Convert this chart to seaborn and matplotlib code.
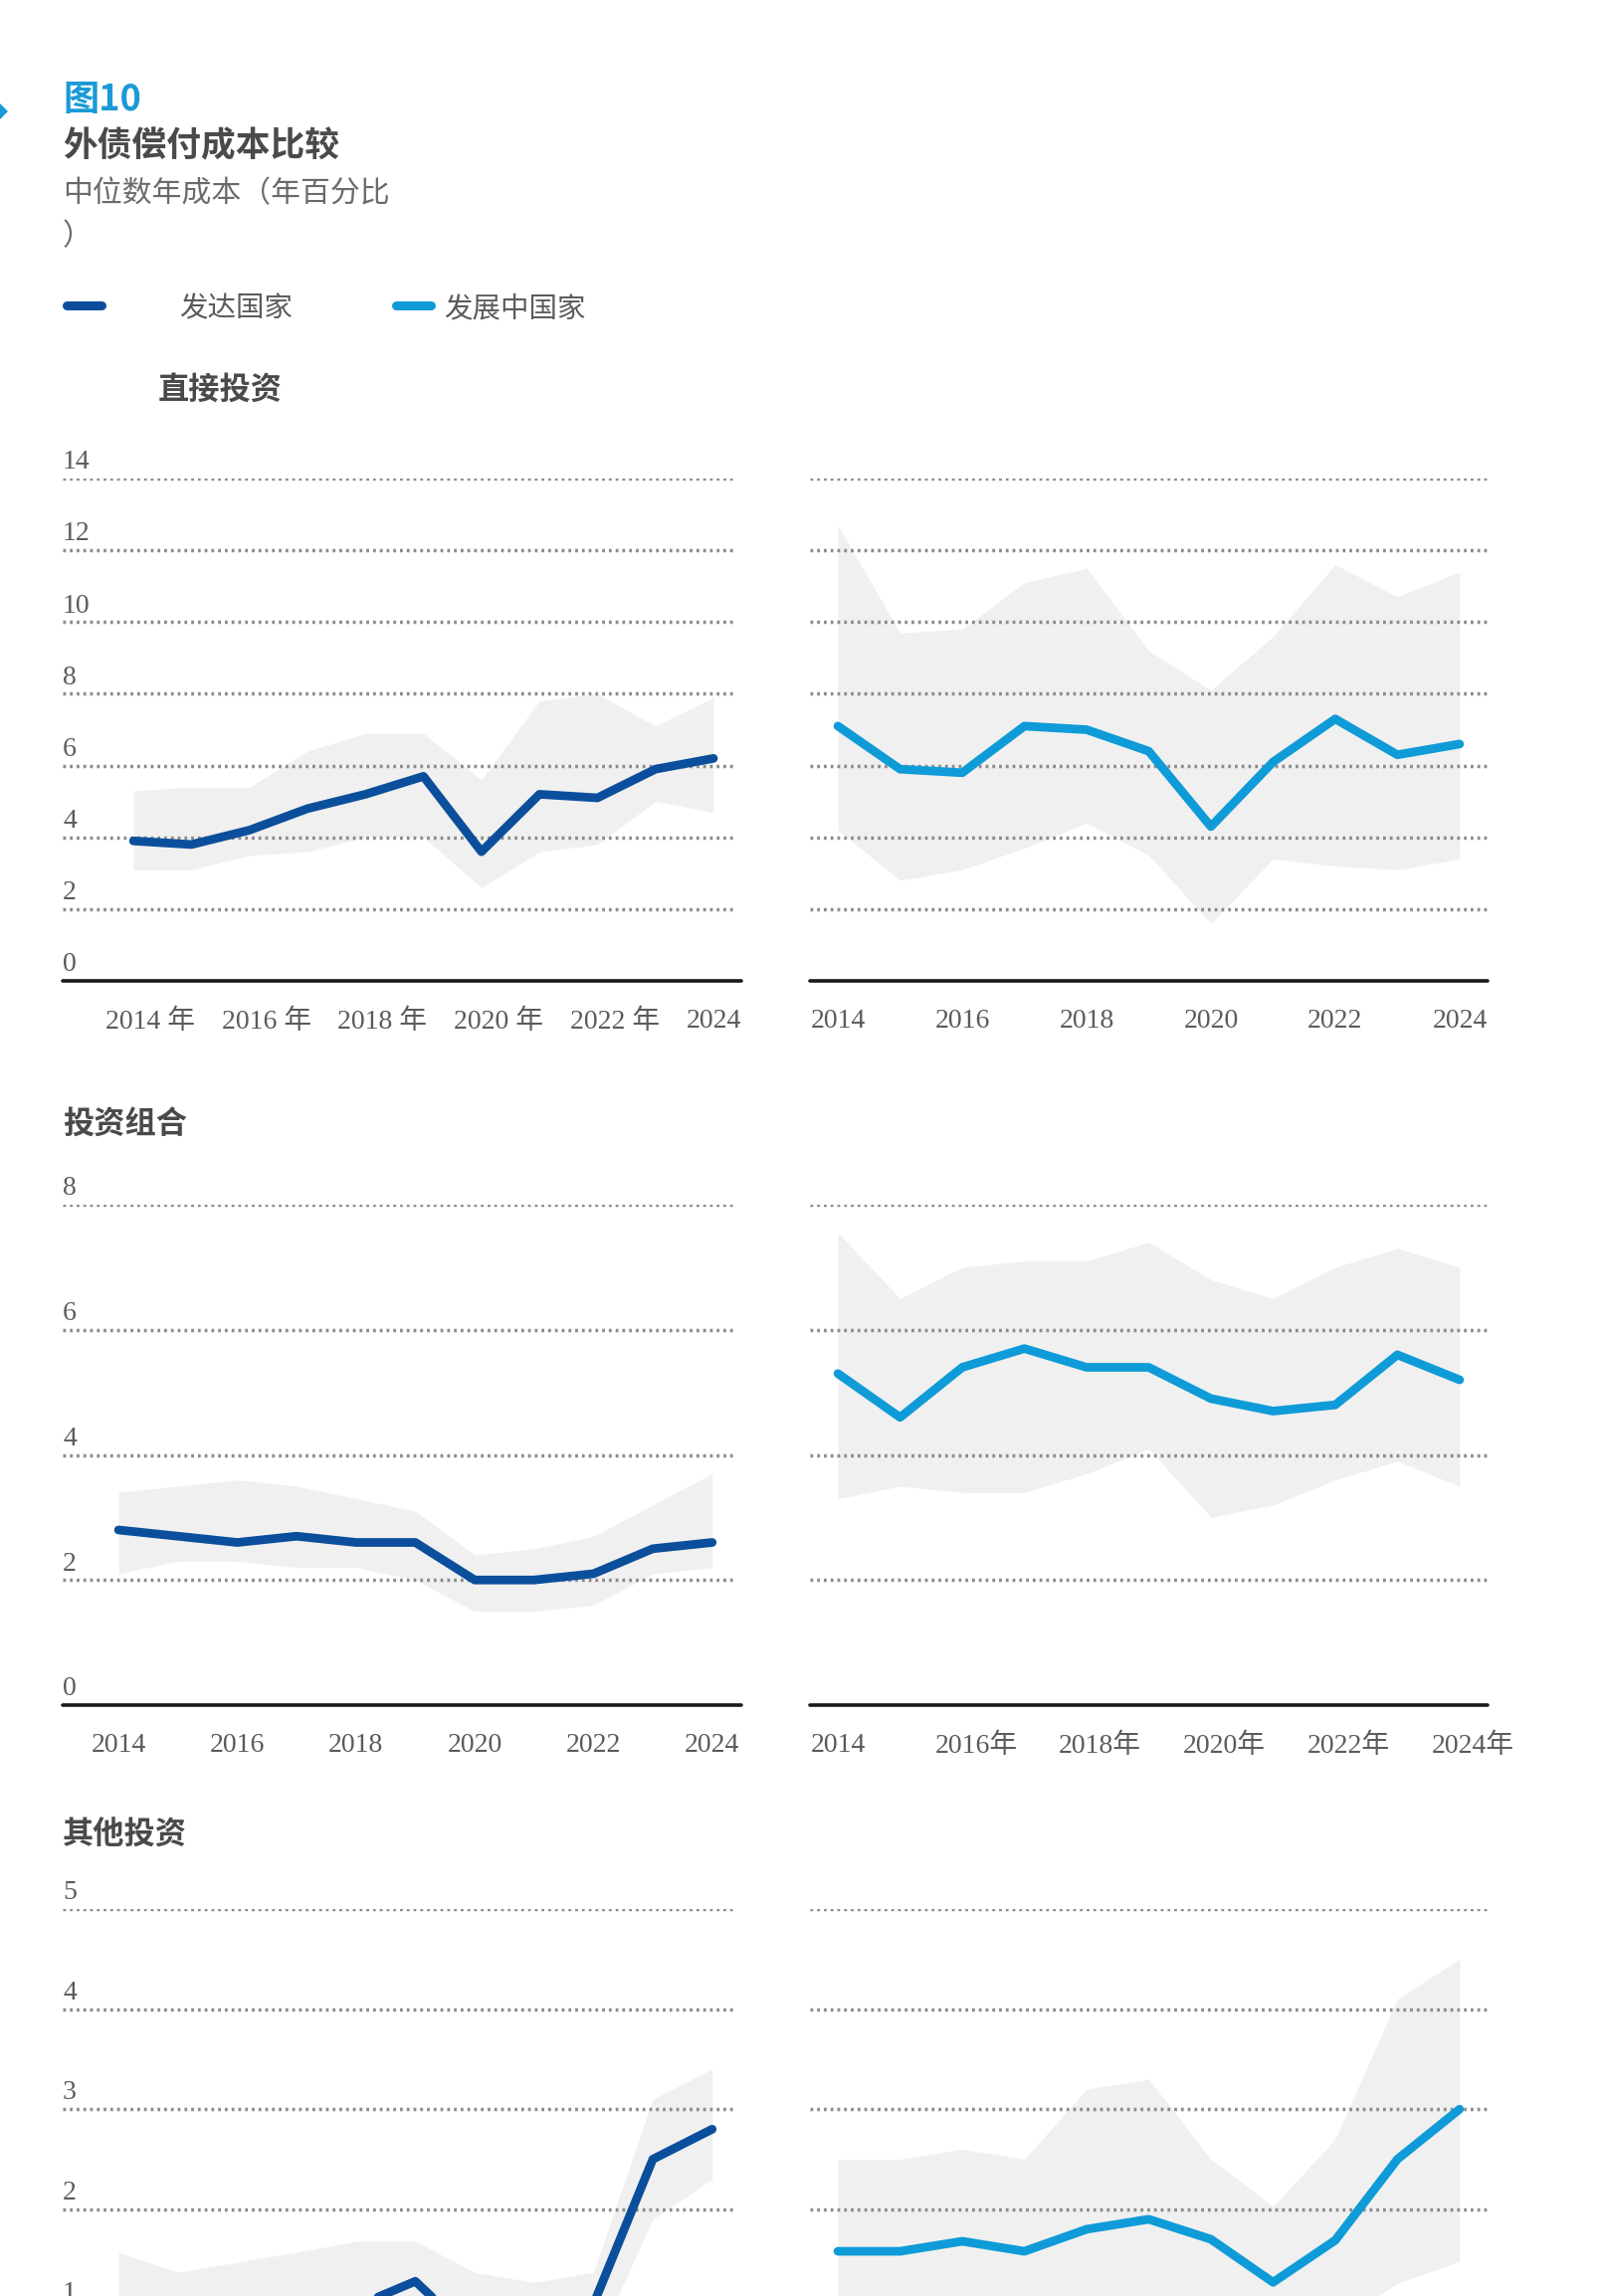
import matplotlib
matplotlib.use("Agg")
import matplotlib.pyplot as plt
from matplotlib.lines import Line2D
from matplotlib.patches import Polygon
import matplotlib.transforms as mtransforms
import pandas as pd
import seaborn as sns

years = list(range(2014, 2025))

# 直接投资 (direct investment)
di_dev = [3.9, 3.8, 4.2, 4.8, 5.2, 5.7, 3.6, 5.2, 5.1, 5.9, 6.2]
di_dev_hi = [5.3, 5.4, 5.4, 6.4, 6.9, 6.9, 5.6, 7.8, 8.0, 7.1, 7.9]
di_dev_lo = [3.1, 3.1, 3.5, 3.6, 4.0, 4.0, 2.6, 3.6, 3.8, 5.0, 4.7]
di_emg = [7.1, 5.9, 5.8, 7.1, 7.0, 6.4, 4.3, 6.1, 7.3, 6.3, 6.6]
di_emg_hi = [12.7, 9.7, 9.8, 11.1, 11.5, 9.2, 8.1, 9.6, 11.6, 10.7, 11.4]
di_emg_lo = [4.2, 2.8, 3.1, 3.7, 4.4, 3.5, 1.6, 3.4, 3.2, 3.1, 3.4]

# 投资组合 (portfolio)
pf_dev = [2.8, 2.7, 2.6, 2.7, 2.6, 2.6, 2.0, 2.0, 2.1, 2.5, 2.6]
pf_dev_hi = [3.4, 3.5, 3.6, 3.5, 3.3, 3.1, 2.4, 2.5, 2.7, 3.2, 3.7]
pf_dev_lo = [2.1, 2.3, 2.3, 2.2, 2.2, 2.0, 1.5, 1.5, 1.6, 2.1, 2.2]
pf_emg = [5.3, 4.6, 5.4, 5.7, 5.4, 5.4, 4.9, 4.7, 4.8, 5.6, 5.2]
pf_emg_hi = [7.55, 6.5, 7.0, 7.1, 7.1, 7.4, 6.8, 6.5, 7.0, 7.3, 7.0]
pf_emg_lo = [3.3, 3.5, 3.4, 3.4, 3.7, 4.1, 3.0, 3.2, 3.6, 3.9, 3.5]

# 其他投资 (other investment)
oi_dev = [0.8, 0.75, 0.8, 0.9, 1.03, 1.28, 0.72, 0.8, 1.05, 2.5, 2.8]
oi_dev_hi = [1.57, 1.37, 1.47, 1.57, 1.68, 1.68, 1.37, 1.27, 1.37, 3.1, 3.4]
oi_dev_lo = [0.4, 0.45, 0.5, 0.5, 0.55, 0.6, 0.35, 0.35, 0.6, 1.9, 2.3]
oi_emg = [1.58, 1.58, 1.68, 1.58, 1.8, 1.9, 1.7, 1.27, 1.69, 2.5, 3.0]
oi_emg_hi = [2.5, 2.5, 2.6, 2.5, 3.2, 3.3, 2.5, 2.03, 2.7, 4.1, 4.5]
oi_emg_lo = [0.9, 0.9, 0.9, 0.95, 1.0, 1.12, 0.8, 0.6, 0.85, 1.26, 1.48]

labels_p1 = ["2014 年", "2016 年", "2018 年", "2020 年", "2022 年", "2024"]
labels_plain = ["2014", "2016", "2018", "2020", "2022", "2024"]
labels_p4 = ["2014", "2016年", "2018年", "2020年", "2022年", "2024年"]
label_years = [2014, 2016, 2018, 2020, 2022, 2024]

DARK = "#0b4f9c"
LIGHT = "#0e9bd8"
BAND = "#f0f0f0"
GRID = "#8c8c8c"
TXT = "#5b5b5b"
HEAD = "#4a4a4a"

W, H, DPI = 1607, 2308, 100

sns.set_theme(style="white")
plt.rcParams["font.family"] = ["Noto Sans CJK SC", "DejaVu Sans"]
SERIF = ["Liberation Serif", "Noto Sans CJK SC"]

fig = plt.figure(figsize=(W / DPI, H / DPI), dpi=DPI)


def fx(px):
    return px / W


def fy(py):
    return 1 - py / H


def panel(x0, x1, ytop, ybot, ymax, xlim, line, hi, lo, color, yticks, grid_right=1.0):
    ax = fig.add_axes([fx(x0), fy(ybot), (x1 - x0) / W, (ybot - ytop) / H])
    ax.set_xlim(*xlim)
    ax.set_ylim(0, ymax)
    ax.axis("off")
    ax.fill_between(years, lo, hi, color=BAND, lw=0, zorder=1)
    for v in yticks:
        if v == 0:
            continue
        ax.axhline(v, xmin=0, xmax=grid_right, color=GRID, lw=2.5,
                   linestyle=(0, (0.8, 1.15)), zorder=2)
    df = pd.DataFrame({"year": years, "value": line})
    sns.lineplot(data=df, x="year", y="value", ax=ax, color=color, lw=6.3,
                 legend=False, zorder=3, solid_capstyle="round")
    ax.axhline(0, color="#1a1a1a", lw=2.6, zorder=4, clip_on=False)
    return ax


def ylabels(ax, ticks):
    tr = mtransforms.blended_transform_factory(ax.transAxes, ax.transData)
    for v in ticks:
        ax.annotate(str(v), xy=(0, v), xycoords=tr, xytext=(0, 7),
                    textcoords="offset points", ha="left", va="baseline",
                    fontsize=20, color=TXT, family=SERIF, annotation_clip=False)


def xlabels(ax, labels):
    tr = mtransforms.blended_transform_factory(ax.transData, ax.transAxes)
    for yr, lab in zip(label_years, labels):
        if "年" in lab:
            ax.annotate(lab, xy=(yr, 0), xycoords=tr, xytext=(-20, -29.5),
                        textcoords="offset points", ha="left", va="center",
                        fontsize=20, color=TXT, family=SERIF, annotation_clip=False)
        else:
            ax.annotate(lab, xy=(yr, 0), xycoords=tr, xytext=(0, -29.5),
                        textcoords="offset points", ha="center", va="center",
                        fontsize=20, color=TXT, family=SERIF, annotation_clip=False)


L_X = (63, 745)
R_X = (814, 1495)

# row 1: 直接投资
t1 = [0, 2, 4, 6, 8, 10, 12, 14]
ax1 = panel(*L_X, 481, 986, 14, (2012.78, 2024.48), di_dev, di_dev_hi, di_dev_lo, DARK, t1, grid_right=0.993)
ylabels(ax1, t1)
xlabels(ax1, labels_p1)
ax2 = panel(*R_X, 481, 986, 14, (2013.55, 2024.45), di_emg, di_emg_hi, di_emg_lo, LIGHT, t1)
xlabels(ax2, labels_plain)

# row 2: 投资组合
t2 = [0, 2, 4, 6, 8]
ax3 = panel(*L_X, 1211, 1714, 8, (2013.06, 2024.49), pf_dev, pf_dev_hi, pf_dev_lo, DARK, t2, grid_right=0.993)
ylabels(ax3, t2)
xlabels(ax3, labels_plain)
ax4 = panel(*R_X, 1211, 1714, 8, (2013.55, 2024.45), pf_emg, pf_emg_hi, pf_emg_lo, LIGHT, t2)
xlabels(ax4, labels_p4)

# row 3: 其他投资 (runs past the bottom of the page)
t3 = [0, 1, 2, 3, 4, 5]
ax5 = panel(*L_X, 1919, 2422, 5, (2013.06, 2024.49), oi_dev, oi_dev_hi, oi_dev_lo, DARK, t3, grid_right=0.993)
ylabels(ax5, [1, 2, 3, 4, 5])
ax6 = panel(*R_X, 1919, 2422, 5, (2013.55, 2024.45), oi_emg, oi_emg_hi, oi_emg_lo, LIGHT, t3)

# header
fig.add_artist(Polygon([(fx(-14), fy(112)), (fx(-3), fy(101)), (fx(8), fy(112)), (fx(-3), fy(123))],
                       closed=True, transform=fig.transFigure, color="#1a9ad6", lw=0))
fig.text(fx(63), fy(101), "图10", fontsize=26, weight="bold", color="#1a9ad6", va="center", ha="left")
fig.text(fx(63), fy(147), "外债偿付成本比较", fontsize=25, weight="bold", color=HEAD, va="center", ha="left")
fig.text(fx(63), fy(195), "中位数年成本（年百分比", fontsize=21.5, weight="light", color="#6a6a6a", va="center", ha="left")
fig.text(fx(63), fy(238), "）", fontsize=21.5, weight="light", color="#6a6a6a", va="center", ha="left")

# legend
fig.add_artist(Line2D([fx(67), fx(102)], [fy(307), fy(307)], transform=fig.transFigure,
                      color=DARK, lw=6.5, solid_capstyle="round"))
fig.text(fx(180), fy(310), "发达国家", fontsize=20.5, color=TXT, va="center", ha="left")
fig.add_artist(Line2D([fx(398), fx(433)], [fy(307), fy(307)], transform=fig.transFigure,
                      color=LIGHT, lw=6.5, solid_capstyle="round"))
fig.text(fx(446), fy(310), "发展中国家", fontsize=20.5, color=TXT, va="center", ha="left")

# section headings
fig.text(fx(159), fy(392), "直接投资", fontsize=22.5, weight="bold", color=HEAD, va="center", ha="left")
fig.text(fx(63), fy(1131), "投资组合", fontsize=22.5, weight="bold", color=HEAD, va="center", ha="left")
fig.text(fx(63), fy(1845), "其他投资", fontsize=22.5, weight="bold", color=HEAD, va="center", ha="left")

fig.savefig("out.png", dpi=DPI, facecolor="white")
